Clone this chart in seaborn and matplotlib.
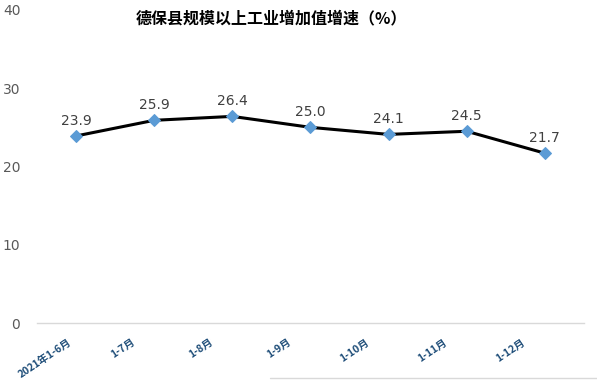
import matplotlib
matplotlib.use("Agg")
import matplotlib.pyplot as plt
from matplotlib.lines import Line2D
import seaborn as sns
import pandas as pd

categories = ["2021年1-6月", "1-7月", "1-8月", "1-9月", "1-10月", "1-11月", "1-12月"]
values = [23.9, 25.9, 26.4, 25.0, 24.1, 24.5, 21.7]
title = "德保县规模以上工业增加值增速（%）"

sns.set_theme(style="white")
plt.rcParams['font.family'] = ['Noto Sans CJK SC', 'DejaVu Sans']

df = pd.DataFrame({"cat": categories, "val": values, "x": range(len(categories))})

fig = plt.figure(figsize=(5.97, 3.81), dpi=100)
ax = fig.add_axes([0.062, 0.152, 0.916, 0.822])
sns.lineplot(data=df, x="x", y="val", ax=ax, color="black", linewidth=2.2,
             marker="D", markersize=6.5, markerfacecolor="#5B9BD5",
             markeredgecolor="#5B9BD5")
for xi, v in zip(df["x"], df["val"]):
    ax.annotate(f"{v:.1f}", (xi, v), xytext=(0, 6), textcoords="offset points",
                ha="center", va="bottom", fontsize=10, color="#404040",
                family=['DejaVu Sans'])

ax.set_xlim(-0.5, 6.5)
ax.set_ylim(0, 40)
ax.set_yticks([0, 10, 20, 30, 40])
ax.set_xticks(list(df["x"]))
ax.set_xticklabels([""] * len(categories))
# category labels, rotated, placed like the reference
for i, (xi, lab) in enumerate(zip(df["x"], categories)):
    dx = -6 if i == 0 else -17
    ax.annotate(lab, (xi, 0), xycoords=("data", "axes fraction"),
                xytext=(dx, -10), textcoords="offset points",
                rotation=34, rotation_mode="anchor", ha="right", va="top",
                fontsize=7.5, fontweight="bold", color="#1F4E79",
                annotation_clip=False)
ax.tick_params(axis="y", labelsize=10, labelcolor="#595959", length=0, pad=12)
ax.tick_params(axis="x", length=0)
for lab in ax.get_yticklabels():
    lab.set_family(['DejaVu Sans'])
ax.set_xlabel("")
ax.set_ylabel("")
for s in ["top", "right", "left"]:
    ax.spines[s].set_visible(False)
ax.spines["bottom"].set_color("#D9D9D9")
ax.spines["bottom"].set_linewidth(1)

fig.text(0.455, 0.953, title, ha="center", va="center", fontsize=11.5,
         fontweight="bold", color="black")

fig.add_artist(Line2D([270 / 597, 1.0], [3 / 381, 3 / 381], color="#D9D9D9",
                      linewidth=1, transform=fig.transFigure))

fig.savefig("out.png", dpi=100)
